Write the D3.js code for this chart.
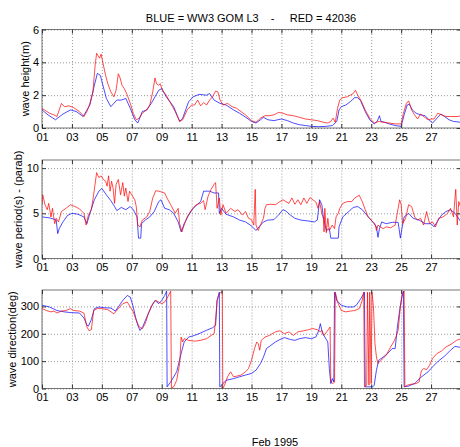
<!DOCTYPE html>
<html><head><meta charset="utf-8">
<script src="https://cdn.jsdelivr.net/npm/d3@7"></script>
<style>
body{margin:0;background:#fff}
svg{display:block}
text{font-family:"Liberation Sans",Arial,Helvetica,sans-serif;font-size:11px;fill:#000}
</style>
</head><body>
<svg id="c" width="460" height="447"></svg>
<script>
// ---- data: [day of Feb 1995, value] ----
const titleText = "BLUE = WW3 GOM L3    -     RED = 42036";
const xLabel = "Feb 1995";
const xTickDays = [1,3,5,7,9,11,13,15,17,19,21,23,25,27];
const hsTicks = [0,2,4,6];
const tpTicks = [0,5,10];
const dirTicks = [0,100,200,300];

const hsBlue = [[1,1.1],[1.4,0.8],[1.9,0.5],[2.4,0.85],[2.9,1.1],[3.3,1.0],[3.75,0.7],[4.2,1.4],[4.5,2.6],[4.7,3.33],[4.9,3.2],[5.1,2.5],[5.3,1.8],[5.6,1.3],[6.0,1.7],[6.3,1.7],[6.6,1.8],[6.9,1.2],[7.2,0.5],[7.4,0.3],[7.7,1.0],[8.0,1.1],[8.3,1.5],[8.8,2.3],[9.0,2.4],[9.3,1.9],[9.8,1.3],[10.2,0.4],[10.4,0.6],[10.8,1.6],[11.1,1.9],[11.5,2.05],[12.0,2.0],[12.2,2.1],[12.5,1.7],[12.9,1.5],[13.3,1.4],[13.8,1.1],[14.2,0.9],[14.7,0.6],[15.0,0.4],[15.3,0.3],[15.6,0.5],[15.8,0.65],[16.1,0.5],[16.5,0.45],[17,0.55],[17.4,0.45],[17.8,0.3],[18.2,0.2],[18.6,0.15],[19,0.1],[19.5,0.08],[20,0.1],[20.4,0.15],[20.7,0.4],[20.85,1.1],[21.0,1.3],[21.3,1.4],[21.6,1.6],[21.9,1.85],[22.1,1.85],[22.3,1.65],[22.6,1.0],[22.9,0.5],[23.2,0.25],[23.4,0.4],[23.55,0.75],[23.65,0.4],[23.9,0.35],[24.2,0.25],[24.6,0.15],[25.0,0.1],[25.2,0.8],[25.4,1.4],[25.55,1.45],[25.75,1.1],[26.0,0.9],[26.3,0.8],[26.6,0.75],[26.8,0.55],[27.1,0.3],[27.4,0.6],[27.65,0.85],[27.9,0.7],[28.2,0.5],[28.5,0.4],[29,0.35]];

const hsRed = [[1,1.2],[1.5,0.9],[1.8,0.8],[2.0,0.7],[2.3,1.5],[2.5,1.3],[2.8,1.35],[3.1,1.25],[3.5,1.0],[3.8,0.7],[4.0,1.0],[4.2,1.5],[4.4,2.2],[4.55,3.8],[4.65,4.55],[4.75,4.4],[4.85,4.25],[4.95,4.5],[5.1,3.85],[5.25,3.2],[5.4,2.7],[5.6,2.2],[5.8,1.9],[5.95,2.3],[6.1,3.3],[6.2,3.1],[6.35,2.6],[6.5,2.4],[6.7,2.0],[6.9,1.5],[7.1,0.9],[7.3,0.5],[7.5,0.6],[7.7,0.9],[8.0,1.1],[8.2,1.4],[8.4,2.2],[8.55,3.05],[8.65,2.7],[8.8,2.6],[8.9,2.7],[9.05,2.3],[9.3,2.0],[9.6,1.5],[9.9,1.0],[10.2,0.4],[10.4,0.5],[10.7,1.1],[11.0,1.4],[11.2,1.4],[11.4,1.7],[11.6,1.35],[11.8,1.55],[12.0,1.4],[12.2,1.7],[12.4,1.9],[12.6,2.25],[12.75,2.2],[12.9,1.7],[13.1,1.4],[13.4,1.5],[13.7,1.3],[14.0,1.2],[14.3,1.0],[14.6,0.8],[15.0,0.45],[15.3,0.35],[15.6,0.6],[15.9,0.75],[16.2,0.75],[16.5,0.8],[16.8,0.95],[17.1,0.9],[17.4,0.8],[17.8,0.75],[18.2,0.65],[18.6,0.55],[19.0,0.5],[19.4,0.45],[19.8,0.35],[20.1,0.3],[20.3,0.4],[20.45,0.6],[20.6,0.35],[20.75,1.2],[20.9,1.7],[21.1,1.85],[21.4,1.9],[21.6,2.0],[21.8,2.1],[21.95,2.3],[22.1,2.0],[22.3,1.7],[22.6,1.1],[22.9,0.6],[23.2,0.3],[23.5,0.4],[23.8,0.35],[24.2,0.3],[24.6,0.25],[25.0,0.25],[25.15,0.9],[25.35,1.5],[25.5,1.65],[25.7,1.1],[25.9,0.8],[26.1,0.55],[26.3,0.85],[26.5,0.7],[26.8,0.5],[27.0,0.55],[27.2,0.55],[27.45,0.9],[27.7,0.8],[28.0,0.7],[28.4,0.7],[28.8,0.7],[29,0.75]];

const tpBlue = [[1,4.6],[1.5,4.5],[1.8,4.35],[1.95,4.25],[2.05,2.75],[2.15,3.3],[2.4,4.05],[2.7,4.75],[3.0,5.0],[3.4,4.9],[3.8,4.6],[4.0,3.85],[4.2,5.0],[4.5,6.5],[4.8,7.45],[5.0,7.75],[5.3,7.05],[5.6,6.4],[5.85,5.75],[6.0,5.3],[6.3,5.65],[6.6,5.4],[6.9,5.75],[7.1,5.4],[7.35,4.6],[7.45,2.25],[7.6,2.25],[7.65,3.85],[7.9,4.25],[8.2,4.6],[8.5,5.2],[8.8,6.3],[8.95,6.5],[9.2,5.55],[9.5,5.4],[9.8,5.0],[10.1,4.05],[10.3,2.95],[10.5,3.85],[10.8,4.8],[11.1,5.55],[11.4,6.0],[11.6,6.3],[11.8,7.45],[12.2,7.45],[12.5,7.25],[12.8,7.25],[12.85,5.0],[13.0,5.55],[13.3,4.9],[13.8,4.6],[14.2,4.25],[14.6,4.05],[15.0,3.6],[15.3,3.1],[15.5,3.5],[15.8,4.05],[16.1,4.25],[16.5,4.3],[16.8,4.8],[17.1,5.4],[17.3,5.25],[17.6,4.8],[17.9,4.45],[18.3,4.25],[18.8,4.15],[19.2,4.05],[19.4,4.25],[19.55,6.5],[19.7,5.95],[19.8,4.6],[20.0,3.1],[20.2,3.3],[20.3,2.25],[20.8,2.25],[20.85,3.5],[21.1,4.6],[21.5,5.2],[21.8,5.65],[22.1,5.75],[22.4,5.4],[22.8,4.6],[23.1,4.05],[23.35,3.5],[23.45,2.35],[23.55,3.3],[23.7,4.05],[24.0,3.85],[24.4,4.0],[24.8,4.0],[24.95,2.25],[25.05,3.3],[25.2,4.6],[25.5,5.0],[25.8,4.45],[26.2,4.25],[26.6,3.85],[27.0,3.85],[27.2,3.5],[27.4,4.05],[27.7,4.8],[28.0,5.2],[28.3,5.4],[28.6,5.0],[29,4.05]];

const tpRed = [[1,5.95],[1.05,7.05],[1.2,5.95],[1.35,5.4],[1.45,6.1],[1.6,4.6],[1.7,5.55],[1.85,3.85],[1.95,4.45],[2.1,4.05],[2.3,5.2],[2.6,5.55],[2.9,5.95],[3.2,5.75],[3.5,5.5],[3.8,5.0],[3.95,3.7],[4.1,4.8],[4.3,5.4],[4.45,7.05],[4.65,9.5],[4.8,8.95],[4.95,9.15],[5.1,8.75],[5.25,8.55],[5.35,8.0],[5.45,9.15],[5.55,7.45],[5.65,8.55],[5.75,7.8],[5.85,6.1],[5.95,8.2],[6.1,8.75],[6.25,7.05],[6.4,8.4],[6.5,6.9],[6.6,7.8],[6.75,6.3],[6.85,7.45],[7.0,7.05],[7.2,6.5],[7.3,5.75],[7.4,3.7],[7.55,3.5],[7.7,4.25],[8.0,4.6],[8.2,5.2],[8.4,6.7],[8.6,7.5],[8.8,7.45],[9.0,7.35],[9.2,7.25],[9.35,6.7],[9.6,5.95],[9.9,5.0],[10.1,5.55],[10.2,3.85],[10.35,2.95],[10.5,3.7],[10.7,4.6],[11.0,5.4],[11.3,5.95],[11.6,6.1],[11.8,6.4],[11.9,5.4],[12.1,6.9],[12.3,7.65],[12.5,8.2],[12.6,8.4],[12.7,5.55],[12.85,6.7],[12.95,4.8],[13.1,5.95],[13.3,5.0],[13.6,5.55],[13.9,5.2],[14.1,5.4],[14.4,4.8],[14.6,5.2],[14.8,4.45],[15.0,4.3],[15.15,3.7],[15.25,7.65],[15.3,3.7],[15.45,3.1],[15.6,3.7],[15.8,4.45],[15.9,5.55],[16.0,5.95],[16.3,6.0],[16.6,5.95],[16.9,6.3],[17.1,6.5],[17.3,6.3],[17.5,6.1],[17.7,6.7],[17.9,6.0],[18.1,6.5],[18.3,5.95],[18.5,6.7],[18.7,6.1],[18.9,6.75],[19.1,6.5],[19.3,6.25],[19.45,5.55],[19.55,6.3],[19.7,5.0],[19.8,4.45],[19.85,2.95],[19.9,5.55],[20.0,2.85],[20.1,4.45],[20.2,3.1],[20.4,3.7],[20.55,3.3],[20.65,4.6],[20.8,5.0],[20.9,5.55],[21.1,6.1],[21.4,6.3],[21.7,6.3],[21.9,6.7],[22.2,7.0],[22.4,6.3],[22.6,5.4],[22.8,4.6],[23.0,4.25],[23.25,3.85],[23.35,3.1],[23.45,3.7],[23.6,3.5],[23.8,3.3],[24.0,3.5],[24.3,3.4],[24.6,3.7],[24.8,5.55],[24.9,6.5],[25.0,5.95],[25.1,3.85],[25.3,4.45],[25.5,5.95],[25.7,5.75],[25.9,4.6],[26.1,4.25],[26.3,4.45],[26.5,3.7],[26.7,5.2],[26.9,3.85],[27.1,4.05],[27.3,3.5],[27.5,4.45],[27.8,4.6],[28.1,5.0],[28.3,5.55],[28.5,4.6],[28.6,6.7],[28.65,7.65],[28.75,3.7],[28.85,6.3],[29,5.55]];

const dirBlue = [[1,304],[1.5,298],[2,285],[2.5,280],[3,277],[3.5,276],[3.8,258],[4.0,232],[4.1,228],[4.3,252],[4.5,292],[4.8,298],[5.2,295],[5.6,294],[5.9,283],[6.1,298],[6.4,322],[6.7,340],[6.9,334],[7.1,298],[7.25,261],[7.4,231],[7.55,212],[7.75,228],[8.0,261],[8.3,298],[8.55,322],[8.8,310],[9.0,322],[9.2,340],[9.33,356],[9.36,6],[9.6,24],[10.0,61],[10.3,128],[10.5,170],[10.8,188],[11.2,194],[11.6,203],[12.0,213],[12.4,222],[12.6,231],[12.7,322],[12.85,352],[12.88,6],[13.0,12],[13.3,30],[13.8,36],[14.2,43],[14.6,49],[15.0,55],[15.3,67],[15.6,91],[15.8,115],[16.0,146],[16.3,158],[16.6,170],[16.9,179],[17.2,186],[17.6,179],[17.9,176],[18.2,182],[18.6,186],[19.0,182],[19.3,188],[19.5,213],[19.6,237],[19.75,200],[19.9,188],[20.1,170],[20.2,73],[20.3,18],[20.4,36],[20.5,24],[20.55,352],[20.6,346],[20.7,322],[21.0,304],[21.4,298],[21.8,298],[22.0,304],[22.3,328],[22.55,352],[22.6,6],[23.1,6],[23.2,12],[23.35,67],[23.5,103],[23.8,115],[24.1,128],[24.4,146],[24.6,146],[24.75,225],[24.9,286],[25.05,334],[25.15,356],[25.2,6],[25.5,9],[25.9,18],[26.3,40],[26.8,61],[27.1,79],[27.5,101],[27.9,118],[28.3,140],[28.6,154],[29,150]];

const dirRed = [[1,292],[1.3,285],[1.6,280],[1.8,283],[2.0,276],[2.3,283],[2.6,285],[2.9,292],[3.1,285],[3.5,283],[3.8,276],[4.0,225],[4.15,211],[4.3,215],[4.45,285],[4.7,292],[5.0,292],[5.4,288],[5.8,273],[6.1,292],[6.4,310],[6.7,316],[6.9,298],[7.1,280],[7.3,249],[7.5,225],[7.7,218],[7.9,237],[8.1,273],[8.4,310],[8.6,322],[8.8,316],[9.0,310],[9.2,316],[9.4,334],[9.6,356],[9.65,2],[9.8,6],[10.0,30],[10.2,91],[10.3,188],[10.4,170],[10.5,182],[10.8,176],[11.2,173],[11.6,176],[12.0,182],[12.3,194],[12.5,200],[12.6,249],[12.7,322],[12.85,346],[13.05,356],[13.08,0],[13.2,12],[13.4,43],[13.6,61],[13.8,43],[14.0,45],[14.3,49],[14.6,61],[14.8,73],[15.0,103],[15.2,146],[15.35,170],[15.45,164],[15.55,140],[15.65,176],[15.9,188],[16.2,194],[16.6,207],[16.9,211],[17.2,200],[17.5,207],[17.8,194],[18.1,207],[18.5,211],[18.8,215],[19.1,219],[19.4,215],[19.6,207],[19.7,213],[19.85,194],[20.1,213],[20.25,225],[20.3,24],[20.45,18],[20.55,24],[20.6,352],[20.75,316],[21.0,285],[21.3,280],[21.6,283],[21.9,285],[22.2,292],[22.4,322],[22.5,352],[22.55,6],[22.7,12],[22.75,352],[22.85,12],[22.9,352],[23.0,18],[23.05,352],[23.15,298],[23.25,164],[23.35,115],[23.45,91],[23.6,101],[23.8,110],[24.0,122],[24.3,152],[24.5,170],[24.65,188],[24.8,213],[24.95,298],[25.05,340],[25.2,356],[25.25,6],[25.4,12],[25.7,16],[26.0,18],[26.2,24],[26.35,64],[26.5,73],[26.7,69],[26.9,85],[27.1,110],[27.4,128],[27.7,137],[28.0,152],[28.4,164],[28.7,176],[29,182]];

// ---- layout ----
const xL = 42, xR = 461, ph = 98.5;
const panels = [
  {top:29.5, dom:[0,6], ticks:hsTicks, blue:hsBlue, red:hsRed, label:"wave height(m)", lx:29},
  {top:160, dom:[0,10.9], ticks:tpTicks, blue:tpBlue, red:tpRed, label:"wave period(s) - (parab)", lx:22},
  {top:290, dom:[0,360], ticks:dirTicks, blue:dirBlue, red:dirRed, label:"wave direction(deg)", lx:16}
];

const svg = d3.select("#c");
const x = d3.scaleLinear().domain([1,29]).range([xL,xR]);
const fmtX = d3.format("02d");
const fmtY = d3.format("d");

svg.append("text").attr("x",251).attr("y",21.5).attr("text-anchor","middle")
  .attr("xml:space","preserve").style("white-space","pre").text(titleText);

panels.forEach((p,i)=>{
  const y = d3.scaleLinear().domain(p.dom).range([p.top+ph, p.top]);
  const g = svg.append("g");
  const cid = "clip"+i;
  g.append("clipPath").attr("id",cid).append("rect")
    .attr("x",xL).attr("y",p.top).attr("width",xR-xL).attr("height",ph);

  // grid
  const gx = g.append("g").attr("transform",`translate(0,${p.top+ph})`)
    .call(d3.axisBottom(x).tickValues(xTickDays).tickSize(-ph).tickFormat(""));
  const gy = g.append("g").attr("transform",`translate(${xL},0)`)
    .call(d3.axisLeft(y).tickValues(p.ticks).tickSize(-(xR-xL)).tickFormat(""));
  [gx,gy].forEach(s=>{ s.select(".domain").remove();
    s.selectAll("line").attr("stroke","#9a9a9a").attr("stroke-dasharray","1,2"); });

  // series
  const line = d3.line().x(d=>x(d[0])).y(d=>y(d[1]));
  const lg = g.append("g").attr("clip-path",`url(#${cid})`);
  lg.append("path").datum(p.blue).attr("d",line).attr("fill","none")
    .attr("stroke","#0000ff").attr("stroke-opacity",0.7).attr("stroke-width",1);
  lg.append("path").datum(p.red).attr("d",line).attr("fill","none")
    .attr("stroke","#ff0000").attr("stroke-opacity",0.7).attr("stroke-width",1);

  // box
  g.append("rect").attr("x",xL).attr("y",p.top).attr("width",xR-xL).attr("height",ph)
    .attr("fill","none").attr("stroke","#555").attr("stroke-width",0.8);

  // axes (ticks inside)
  const ax = g.append("g").attr("transform",`translate(0,${p.top+ph})`)
    .call(d3.axisBottom(x).tickValues(xTickDays).tickSizeInner(-4).tickSizeOuter(0).tickPadding(5).tickFormat(fmtX));
  const axT = g.append("g").attr("transform",`translate(0,${p.top})`)
    .call(d3.axisTop(x).tickValues(xTickDays).tickSizeInner(-4).tickSizeOuter(0).tickFormat(""));
  const ay = g.append("g").attr("transform",`translate(${xL},0)`)
    .call(d3.axisLeft(y).tickValues(p.ticks).tickSizeInner(-4).tickSizeOuter(0).tickPadding(3).tickFormat(fmtY));
  const ayR = g.append("g").attr("transform",`translate(${xR},0)`)
    .call(d3.axisRight(y).tickValues(p.ticks).tickSizeInner(-4).tickSizeOuter(0).tickFormat(""));
  [ax,axT,ay,ayR].forEach(s=>{
    s.select(".domain").remove();
    s.selectAll("line").attr("stroke","#333");
    s.selectAll("text").attr("font-size",null).attr("font-family",null).style("font-size","11px");
  });

  svg.append("text").attr("transform",`translate(${p.lx},${p.top+ph/2}) rotate(-90)`)
    .attr("text-anchor","middle").text(p.label);
});

svg.append("text").attr("x",275).attr("y",446).attr("text-anchor","middle").text(xLabel);
</script>
</body></html>
